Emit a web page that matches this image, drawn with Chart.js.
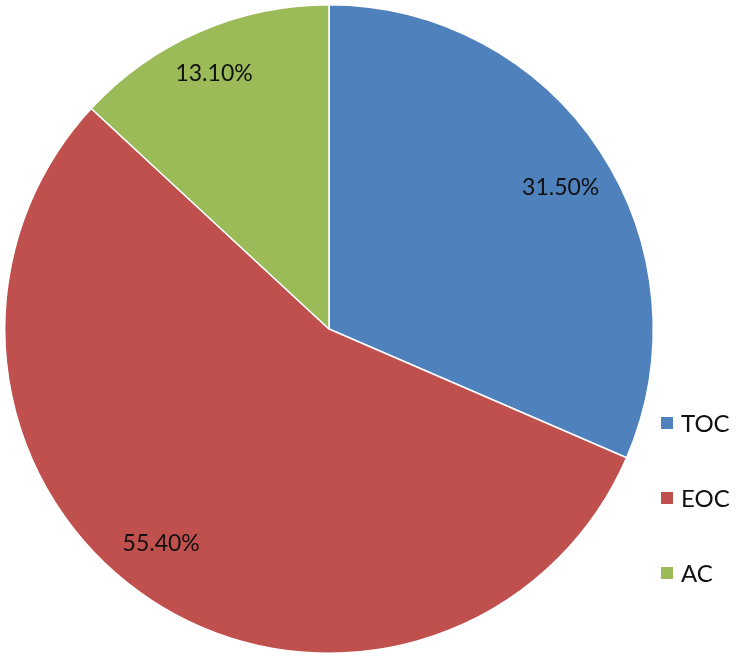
<!DOCTYPE html>
<html>
<head>
<meta charset="utf-8">
<script src="https://cdn.jsdelivr.net/npm/chart.js@4"></script>
<style>
  html, body { margin: 0; padding: 0; background: #fff; }
  #wrap { width: 743px; height: 665px; position: relative; }
</style>
</head>
<body>
<div id="wrap"><canvas id="pie"></canvas></div>
<script>
// dados do gráfico
const categories = ["TOC", "EOC", "AC"]
const shares = [31.5, 55.4, 13.1]
const sliceColors = ["#4F81BD", "#C0504D", "#9BBB59"]

const fontFamily = "Lato, 'Open Sans', sans-serif"

// pequenos ajustes de posição dos rótulos (estilo, não dados)
const labelNudge = [
  [4, 8],
  [-19, -14],
  [-6, -6],
]

// rótulos de percentagem dentro das fatias
const sliceLabels = {
  id: "sliceLabels",
  afterDatasetsDraw(chart) {
    const ctx = chart.ctx
    const meta = chart.getDatasetMeta(0)
    ctx.save()
    ctx.font = "23px " + fontFamily
    ctx.fillStyle = "#111"
    ctx.textAlign = "center"
    ctx.textBaseline = "middle"
    meta.data.forEach((arc, i) => {
      const mid = (arc.startAngle + arc.endAngle) / 2
      const r = arc.outerRadius * 0.84
      const x = arc.x + Math.cos(mid) * r + labelNudge[i][0]
      const y = arc.y + Math.sin(mid) * r + labelNudge[i][1]
      ctx.fillText(shares[i].toFixed(2) + "%", x, y)
    })
    ctx.restore()
  },
}

// legenda à direita, desenhada à mão
const sideLegend = {
  id: "sideLegend",
  afterDraw(chart) {
    const ctx = chart.ctx
    ctx.save()
    ctx.font = "24px " + fontFamily
    ctx.textBaseline = "middle"
    categories.forEach((name, i) => {
      const y = 423 + i * 75
      ctx.fillStyle = sliceColors[i]
      ctx.fillRect(661, y - 6, 12, 12)
      ctx.fillStyle = "#111"
      ctx.fillText(name, 681, y + 1)
    })
    ctx.restore()
  },
}

new Chart(document.getElementById("pie"), {
  type: "pie",
  data: {
    labels: categories,
    datasets: [
      {
        data: shares,
        backgroundColor: sliceColors,
        borderColor: "#ffffff",
        borderWidth: 1.5,
      },
    ],
  },
  options: {
    responsive: true,
    maintainAspectRatio: false,
    animation: false,
    layout: { padding: { left: 4, right: 89, top: 4, bottom: 11 } },
    plugins: {
      legend: { display: false },
      tooltip: { enabled: false },
    },
  },
  plugins: [sliceLabels, sideLegend],
})
</script>
</body>
</html>
